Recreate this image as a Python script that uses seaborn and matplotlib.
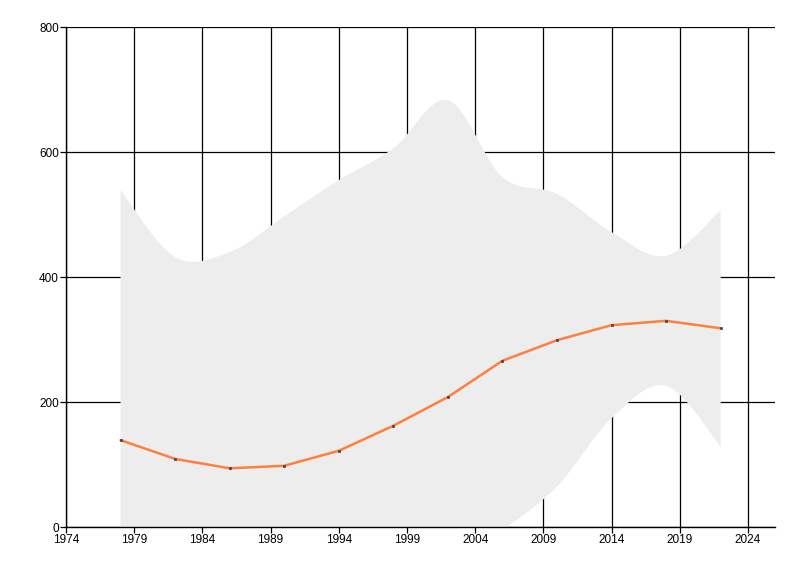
import numpy as np
import pandas as pd
import matplotlib
matplotlib.use('Agg')
import matplotlib.pyplot as plt
import seaborn as sns

# Values
years = [1978, 1982, 1986, 1990, 1994, 1998, 2002, 2006, 2010, 2014, 2018, 2022]
mean_vals = [139, 109, 94, 98, 122, 162, 208, 266, 299, 323, 330, 318]
upper_vals = [539, 432, 440, 497, 555, 606, 683, 560, 533, 472, 434, 507]
lower_vals = [-261, -214, -252, -300, -300, -200, -60, -5, 65, 174, 226, 129]
xticks = list(range(1974, 2025, 5))
yticks = [0, 200, 400, 600, 800]


def cardinal_spline(x, y, n=40, tension=0.5):
    # smooth curve through the points (like a chart "spline range" series)
    x = np.asarray(x, float)
    y = np.asarray(y, float)
    px = np.concatenate([[x[0]], x, [x[-1]]])
    py = np.concatenate([[y[0]], y, [y[-1]]])
    xs, ys = [], []
    t = np.linspace(0, 1, n, endpoint=False)
    h00 = 2 * t**3 - 3 * t**2 + 1
    h10 = t**3 - 2 * t**2 + t
    h01 = -2 * t**3 + 3 * t**2
    h11 = t**3 - t**2
    for i in range(1, len(px) - 2):
        mx0 = tension * (px[i + 1] - px[i - 1])
        my0 = tension * (py[i + 1] - py[i - 1])
        mx1 = tension * (px[i + 2] - px[i])
        my1 = tension * (py[i + 2] - py[i])
        xs.append(h00 * px[i] + h10 * mx0 + h01 * px[i + 1] + h11 * mx1)
        ys.append(h00 * py[i] + h10 * my0 + h01 * py[i + 1] + h11 * my1)
    xs.append([x[-1]])
    ys.append([y[-1]])
    return np.concatenate(xs), np.concatenate(ys)


df = pd.DataFrame({'year': years, 'value': mean_vals})

sns.set_style('white')
plt.rcParams['font.family'] = ['Liberation Sans', 'DejaVu Sans']
fig = plt.figure(figsize=(8, 5.76), dpi=100)
ax = fig.add_axes([0.0825, 0.085, 0.8865, 0.868])

ux, uy = cardinal_spline(years, upper_vals)
lx, ly = cardinal_spline(years, lower_vals)
ax.fill_between(ux, ly, uy, color='#ededed', linewidth=0, zorder=2)

sns.lineplot(data=df, x='year', y='value', color='#ff7f3f', linewidth=1.8,
             marker='s', markersize=1.8, markerfacecolor='#444444',
             markeredgecolor='#444444', markeredgewidth=0.5, ax=ax, zorder=3)

ax.set_xlim(1974, 2026)
ax.set_ylim(0, 800)
ax.set_xticks(xticks)
ax.set_yticks(yticks)
ax.grid(True, color='black', linewidth=0.9, zorder=1)
ax.set_axisbelow(True)
ax.set_xlabel('')
ax.set_ylabel('')
ax.tick_params(axis='both', direction='out', length=4, width=0.9,
               labelsize=8.5, colors='black', bottom=True, left=True, pad=1)
for side in ['top', 'right']:
    ax.spines[side].set_visible(False)
for side in ['left', 'bottom']:
    ax.spines[side].set_color('black')
    ax.spines[side].set_linewidth(1.0)

fig.savefig('out.png', dpi=100)
plt.close(fig)
